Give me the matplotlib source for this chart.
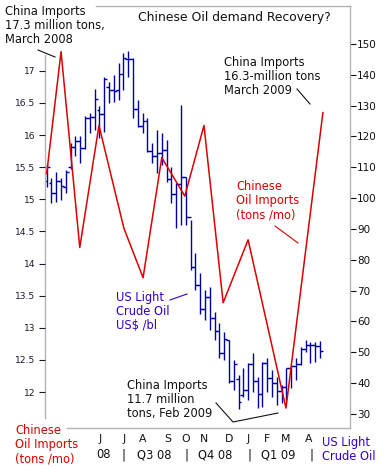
import matplotlib
matplotlib.use("Agg")
import matplotlib.pyplot as plt
from matplotlib.lines import Line2D
import numpy as np

# ── Data ───────────────────────────────────────────────────────────────────
# Weekly WTI bars (week index 0 = mid-March 2008), US$ /bl
OIL_OPEN  = [105.5, 105.0, 101.8, 105.6, 103.5, 110.0, 116.7, 118.5, 116.3, 125.9,
             126.3, 128.5, 127.4, 136.0, 134.9, 135.0, 140.2, 145.0, 145.0, 129.0,
             123.3, 125.1, 115.2, 113.8, 114.6, 115.5, 106.2, 101.2, 104.6, 106.9,
             93.9, 77.7, 71.9, 64.2, 67.8, 61.0, 57.0, 49.9, 54.0, 40.8,
             41.5, 36.0, 37.7, 46.3, 40.8, 36.5, 46.5, 41.7, 40.2, 37.5,
             38.9, 44.8, 45.5, 46.3, 51.1, 52.4, 52.5, 52.2]
OIL_HIGH  = [111.0, 106.5, 108.5, 106.5, 109.1, 118.0, 120.0, 120.0, 126.5, 127.5,
             135.4, 130.0, 139.3, 137.7, 139.9, 143.8, 147.0, 147.7, 145.5, 131.8,
             127.6, 126.0, 117.9, 122.0, 121.0, 118.9, 110.0, 104.9, 130.2, 106.9,
             93.0, 82.2, 75.7, 70.2, 71.2, 63.0, 59.5, 56.6, 54.0, 47.5,
             42.6, 44.9, 46.5, 49.8, 42.0, 46.9, 48.0, 44.3, 42.0, 39.4,
             44.9, 46.0, 48.0, 51.7, 54.0, 53.3, 53.3, 53.6]
OIL_LOW   = [103.6, 98.4, 98.8, 99.4, 101.7, 109.5, 113.5, 111.5, 116.0, 121.0,
             122.1, 119.5, 121.5, 130.9, 131.2, 131.8, 135.1, 139.3, 126.0, 123.0,
             121.0, 115.0, 111.4, 108.0, 110.8, 105.2, 98.4, 90.3, 91.3, 91.3,
             76.7, 70.2, 62.5, 60.5, 57.2, 54.0, 48.0, 47.5, 40.0, 37.8,
             31.6, 35.5, 34.5, 37.0, 32.0, 32.3, 37.0, 35.5, 33.0, 33.4,
             34.5, 38.4, 41.0, 46.0, 50.0, 46.5, 46.8, 48.0]
OIL_CLOSE = [110.2, 101.8, 105.6, 104.0, 108.5, 116.7, 118.5, 116.3, 125.9, 126.3,
             132.2, 127.4, 138.5, 134.9, 134.6, 140.2, 145.3, 145.1, 128.9, 123.3,
             125.1, 115.2, 113.8, 114.6, 115.5, 106.2, 101.2, 104.6, 106.9, 93.9,
             77.7, 71.9, 64.2, 67.8, 61.0, 57.0, 49.9, 54.4, 40.8, 46.3,
             34.0, 37.7, 46.3, 40.8, 36.5, 46.5, 41.7, 40.2, 37.5, 38.9,
             44.8, 45.5, 46.3, 51.1, 52.4, 52.5, 52.2, 50.3]

# Chinese monthly crude imports (million tons), positioned on the week scale
IMP_WEEK  = [0.0, 3.0, 6.9, 10.9, 16.1, 20.1, 24.0, 28.8, 32.8, 36.8, 42.0, 49.9, 57.6]
IMP_VALUE = [15.40, 17.30, 14.25, 16.15, 14.55, 13.78, 15.65, 15.05, 16.15, 13.39,
             14.37, 11.75, 16.35]

MONTHS   = ["J", "J", "A", "S", "O", "N", "D", "J", "F", "M", "A"]
QUARTERS = ["08", "|", "Q3 08", "|", "Q4 08", "|", "Q1 09", "|"]

# ── Layout ─────────────────────────────────────────────────────────────────
W, H = 384, 467
MONTH_POS   = [11.1, 16.1, 20.1, 25.2, 28.9, 32.8, 38.0, 42.0, 45.9, 49.9, 54.7]
QUARTER_POS = [11.85, 16.12, 22.48, 29.26, 35.2, 42.19, 48.34, 55.12]

RED   = "#DD0000"
NAVY  = "#0000A0"
BLUE_TXT = "#3300CC"
DARK  = "#111111"
FRAME = "#B4B4B4"
FS = 8.3

plt.rcParams["font.family"] = ["DejaVu Sans"]

fig = plt.figure(figsize=(W / 100, H / 100), dpi=100)
ax = fig.add_axes([45 / W, 1 - 428 / H, (350 - 45) / W, (428 - 6) / H])
axl = ax.twinx()   # red imports line on the left scale, drawn on top

def px(x, y):
    return x / W, 1 - y / H

# ── Oil bars (right scale) ─────────────────────────────────────────────────
wk = np.arange(len(OIL_CLOSE))
ax.vlines(wk, OIL_LOW, OIL_HIGH, color=NAVY, lw=1.0)
ax.hlines(OIL_OPEN, wk - 0.6, wk, color=NAVY, lw=1.0)
ax.hlines(OIL_CLOSE, wk, wk + 0.6, color=NAVY, lw=1.0)

ax.set_xlim(-0.35, 63.25)
ax.set_ylim(25.45, 162.3)
ax.yaxis.tick_right()
ax.yaxis.set_label_position("right")
ax.set_yticks(range(30, 151, 10))
ax.tick_params(axis="y", labelsize=7.5, length=4, width=0.8, pad=1,
               colors=DARK)

ax.set_xticks(MONTH_POS)
ax.set_xticklabels(MONTHS)
ax.tick_params(axis="x", length=0, labelsize=7.8, pad=4, colors=DARK)

for s in ax.spines.values():
    s.set_color(FRAME)
    s.set_linewidth(1.0)
ax.spines["top"].set_bounds(10.3, 63.25)
ax.spines["bottom"].set_bounds(4.23, 63.25)
ax.spines["left"].set_bounds(28.7, 146.4)

# ── China imports line (left scale) ────────────────────────────────────────
axl.plot(IMP_WEEK, IMP_VALUE, color=RED, lw=1.1)
axl.set_ylim(11.44, 18.01)
axl.yaxis.tick_left()
axl.yaxis.set_label_position("left")
imp_ticks = np.arange(12, 17.01, 0.5)
axl.set_yticks(imp_ticks)
axl.set_yticklabels([f"{v:g}" for v in imp_ticks])
axl.tick_params(axis="y", labelsize=6.6, length=4, width=0.8, pad=3,
                colors="#1a1a33")
for s in axl.spines.values():
    s.set_visible(False)

# quarter row under the months
qt = ax.get_xaxis_transform()
for x, lab in zip(QUARTER_POS, QUARTERS):
    ax.text(x, (428 - 455) / 422, lab, transform=qt, ha="center", va="center",
            fontsize=FS, color=DARK)

# ── Annotations ────────────────────────────────────────────────────────────
def label(x, y, s, color=DARK, size=FS):
    fig.text(*px(x, y), s, ha="left", va="top", fontsize=size, color=color,
             linespacing=1.12)

def leader(pts, color=DARK):
    xs = [p[0] / W for p in pts]
    ys = [1 - p[1] / H for p in pts]
    fig.add_artist(Line2D(xs, ys, color=color, lw=0.8,
                          transform=fig.transFigure))

label(5, 5, "China Imports\n17.3 million tons,\nMarch 2008")
label(138, 11, "Chinese Oil demand Recovery?", size=8.9)
label(224, 56, "China Imports\n16.3-million tons\nMarch 2009")
label(236, 180, "Chinese\nOil Imports\n(tons /mo)", color=RED)
label(116, 291, "US Light\nCrude Oil\nUS$ /bl", color=BLUE_TXT)
label(127, 379, "China Imports\n11.7 million\ntons, Feb 2009")
label(15, 424, "Chinese\nOil Imports\n(tons /mo)", color=RED)
label(322, 436, "US Light\nCrude Oil", color=BLUE_TXT)

leader([(38, 50), (55, 57)])
leader([(297, 89), (310, 104)])
leader([(275, 226), (298, 243)], color=RED)
leader([(170, 300), (187, 294)], color=BLUE_TXT)
leader([(216, 403), (233, 422), (278, 413)])

fig.savefig("out.png", dpi=100)
